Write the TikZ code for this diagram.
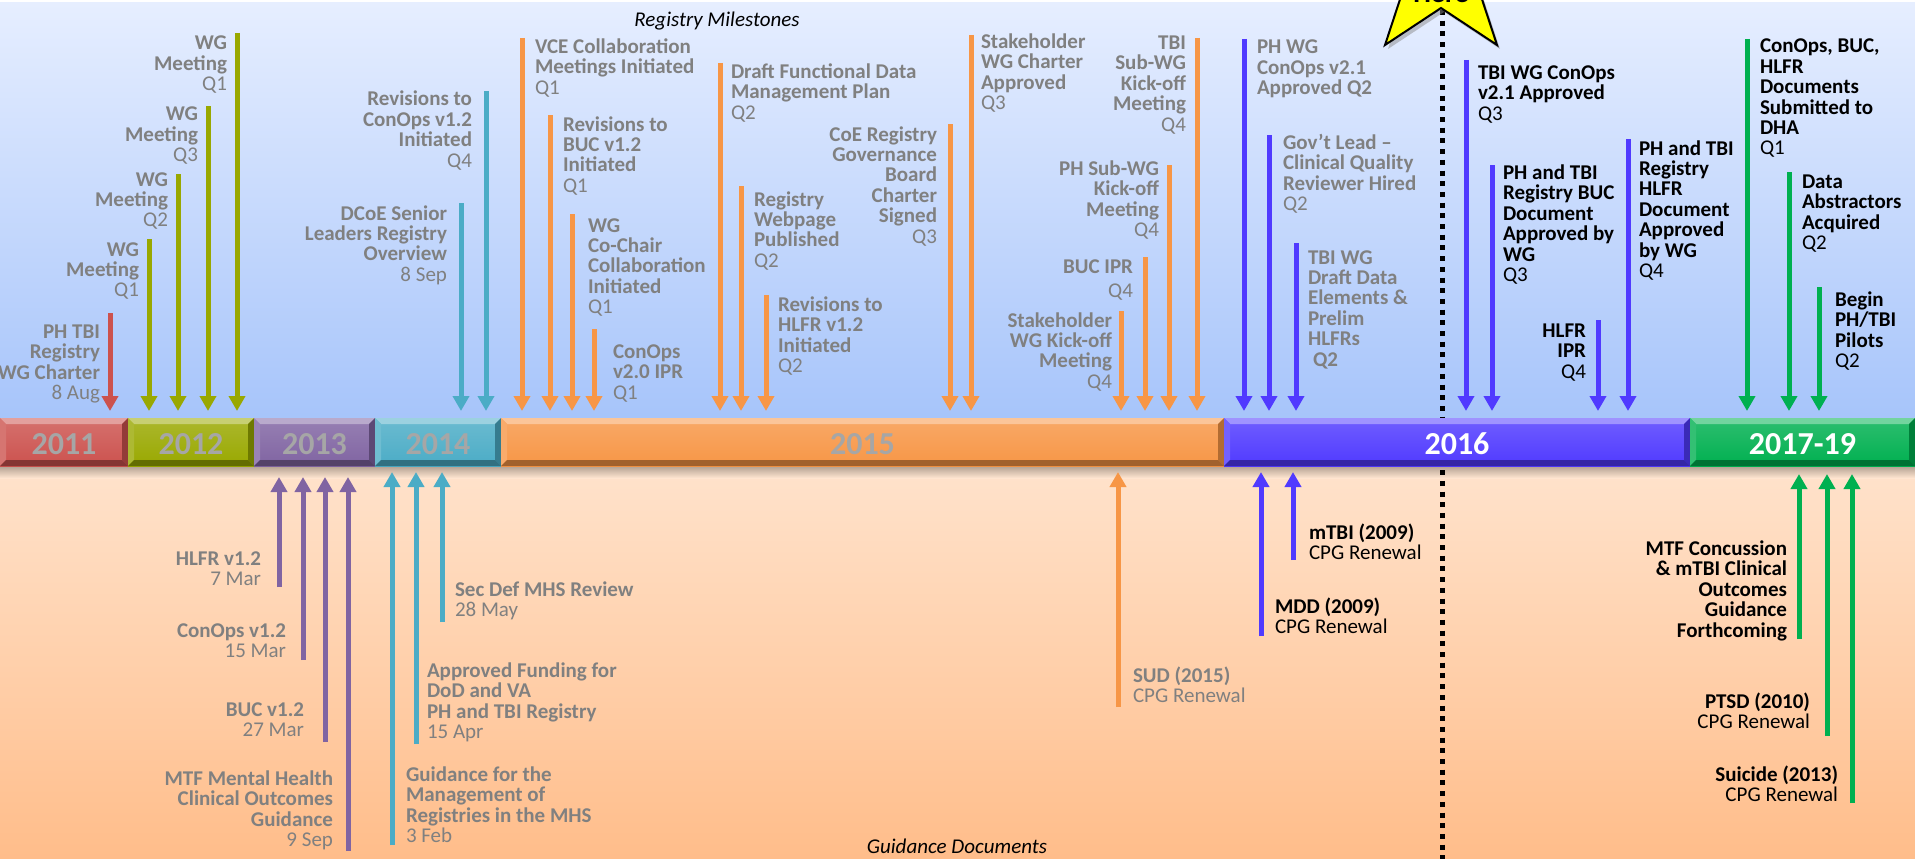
\documentclass[tikz,border=0pt]{standalone}
\usepackage{fontspec}
\setmainfont{Carlito}
\usetikzlibrary{arrows.meta}
\definecolor{cRed}{RGB}{204,82,78}
\definecolor{cOlive}{RGB}{153,168,0}
\definecolor{cPurple}{RGB}{128,100,162}
\definecolor{cTeal}{RGB}{75,172,198}
\definecolor{cOrange}{RGB}{247,150,70}
\definecolor{cBlue}{RGB}{80,58,255}
\definecolor{cGreen}{RGB}{0,176,80}
\definecolor{lblgray}{RGB}{128,128,128}
\definecolor{yrgray}{RGB}{166,166,166}
\definecolor{bgTop}{RGB}{230,238,255}
\definecolor{bgMid}{RGB}{180,205,251}
\definecolor{bgBlue}{RGB}{163,194,250}
\definecolor{bgPeach}{RGB}{255,229,208}
\definecolor{bgOrange}{RGB}{255,189,138}
\definecolor{starY}{RGB}{255,255,0}
\newcommand\RL[1]{\vtop{\halign{\hfil\bfseries##\cr#1\crcr}}}
\newcommand\LL[1]{\vtop{\halign{\bfseries##\hfil\cr#1\crcr}}}
\newcommand\rg{\mdseries}
\newcommand\labR[5]{\node[lab,text=#4,anchor=base east] (#1) at (#2,#3) {\RL{#5}};}
\newcommand\labL[5]{\node[lab,text=#4,anchor=base west] (#1) at (#2,#3) {\LL{#5}};}
\newcommand\tarr[4]{\coordinate (#1s) at (#2,#3); \coordinate (#1e) at (#2,411); \draw[arrowst,#4] (#1s) -- (#1e);}
\newcommand\barr[5]{\coordinate (#1s) at (#2,#3); \coordinate (#1e) at (#2,#4); \draw[arrowst,#5] (#1s) -- (#1e);}
\newcommand\seg[6]{%
 \shade[top color=#4!82!white, bottom color=#4] (#2,418) rectangle (#3,466);
 \fill[#4!55!white] (#2,418) -- (#3,418) -- ({#3-6},424) -- ({#2+6},424) -- cycle;
 \fill[#4!80!white] (#2,418) -- ({#2+6},424) -- ({#2+6},460) -- (#2,466) -- cycle;
 \fill[#4!72!black] (#3,418) -- ({#3-6},424) -- ({#3-6},460) -- (#3,466) -- cycle;
 \fill[#4!65!black] (#2,466) -- ({#2+6},460) -- ({#3-6},460) -- (#3,466) -- cycle;
 \node[yr,text=#6] (#1) at ({(#2+#3)/2},454) {#5};}
\tikzset{
 lab/.style={inner sep=0pt, outer sep=0pt, font=\fontsize{21}{20.4}\selectfont},
 yr/.style={inner sep=0pt, anchor=base, font=\fontsize{32}{36}\selectfont\bfseries},
 arrowst/.style={line width=5pt, -{Triangle[width=16pt,length=15pt]}},
 ttl/.style={inner sep=0pt, anchor=base, font=\fontsize{21}{24}\selectfont\itshape},
}
\begin{document}
\begin{tikzpicture}[x=1pt,y=-1pt]
\useasboundingbox (0,0) rectangle (1915,859);
\clip (0,0) rectangle (1915,859);
% background
\fill[white] (0,0) rectangle (1915,859);
\shade[top color=bgTop, middle color=bgMid, bottom color=bgBlue] (0,3) rectangle (1915,442);
\shade[top color=bgPeach, bottom color=bgOrange] (0,442) rectangle (1915,859);
\shade[top color=bgPeach!70!black, bottom color=bgPeach] (0,466) rectangle (1915,478);
% today line
\coordinate (dtop) at (1442,10);
\coordinate (dbot) at (1442,859);
\draw[line width=5pt, dash pattern=on 5pt off 5.7pt, black] (dtop) -- (dbot);
% bar
\seg{y2011}{0}{128}{cRed}{2011}{yrgray}
\seg{y2012}{128}{254}{cOlive}{2012}{yrgray}
\seg{y2013}{254}{375}{cPurple}{2013}{yrgray}
\seg{y2014}{375}{501}{cTeal}{2014}{yrgray}
\seg{y2015}{501}{1224}{cOrange}{2015}{yrgray}
\seg{y2016}{1224}{1690}{cBlue}{2016}{white}
\seg{y2017}{1690}{1915}{cGreen}{2017-19}{white}
% titles
\node[ttl] (rm) at (717,27) {Registry Milestones};
\node[ttl] (gd) at (957,853) {Guidance Documents};
% top arrows
\tarr{a1}{110}{313}{cRed}
\tarr{a2}{149}{239}{cOlive}
\tarr{a3}{178}{174}{cOlive}
\tarr{a4}{208}{106}{cOlive}
\tarr{a5}{237}{33}{cOlive}
\tarr{a6}{461}{203}{cTeal}
\tarr{a7}{486}{91}{cTeal}
\tarr{a8}{522}{38}{cOrange}
\tarr{a9}{550}{115}{cOrange}
\tarr{a10}{572}{214}{cOrange}
\tarr{a11}{594}{329}{cOrange}
\tarr{a12}{720}{63}{cOrange}
\tarr{a13}{741}{186}{cOrange}
\tarr{a14}{766}{295}{cOrange}
\tarr{a15}{950}{124}{cOrange}
\tarr{a16}{971}{35}{cOrange}
\tarr{a17}{1121}{311}{cOrange}
\tarr{a18}{1145}{257}{cOrange}
\tarr{a19}{1169}{165}{cOrange}
\tarr{a20}{1197}{38}{cOrange}
\tarr{a21}{1244}{39}{cBlue}
\tarr{a22}{1269}{135}{cBlue}
\tarr{a23}{1296}{243}{cBlue}
\tarr{a24}{1466}{60}{cBlue}
\tarr{a25}{1492}{165}{cBlue}
\tarr{a26}{1598}{320}{cBlue}
\tarr{a27}{1628}{139}{cBlue}
\tarr{a28}{1747}{39}{cGreen}
\tarr{a29}{1789}{172}{cGreen}
\tarr{a30}{1819}{287}{cGreen}
% top labels
\labR{n1}{100}{338.5}{lblgray}{PH TBI\cr Registry\cr WG Charter\cr\rg 8 Aug}
\labR{n2}{139}{256}{lblgray}{WG\cr Meeting\cr\rg Q1}
\labR{n3}{168}{186}{lblgray}{WG\cr Meeting\cr\rg Q2}
\labR{n4}{198}{121}{lblgray}{WG\cr Meeting\cr\rg Q3}
\labR{n5}{227}{50}{lblgray}{WG\cr Meeting\cr\rg Q1}
\labR{n6}{447}{220}{lblgray}{DCoE Senior\cr Leaders Registry\cr Overview\cr\rg 8 Sep}
\labR{n7}{472}{106}{lblgray}{Revisions to\cr ConOps v1.2\cr Initiated\cr\rg Q4}
\labL{n8}{535}{53.5}{lblgray}{VCE Collaboration\cr Meetings Initiated\cr\rg Q1}
\labL{n9}{563}{131}{lblgray}{Revisions to\cr BUC v1.2\cr Initiated\cr\rg Q1}
\labL{n10}{588}{232}{lblgray}{WG\cr Co-Chair\cr Collaboration\cr Initiated\cr\rg Q1}
\labL{n11}{613}{358.5}{lblgray}{ConOps\cr v2.0 IPR\cr\rg Q1}
\labL{n12}{731}{78.5}{lblgray}{Draft Functional Data\cr Management Plan\cr\rg Q2}
\labL{n13}{754}{206}{lblgray}{Registry\cr Webpage\cr Published\cr\rg Q2}
\labL{n14}{778}{311.5}{lblgray}{Revisions to\cr HLFR v1.2\cr Initiated\cr\rg Q2}
\labR{n15}{937}{141}{lblgray}{CoE Registry\cr Governance\cr Board\cr Charter\cr Signed\cr\rg Q3}
\labL{n16}{981}{48.5}{lblgray}{Stakeholder\cr WG Charter\cr Approved\cr\rg Q3}
\labR{n17}{1112}{327}{lblgray}{Stakeholder\cr WG Kick-off\cr Meeting\cr\rg Q4}
\labR{n18}{1133}{273}{lblgray}{BUC IPR\cr\noalign{\vskip3.6pt}\rg Q4}
\labR{n19}{1159}{175.5}{lblgray}{PH Sub-WG\cr Kick-off\cr Meeting\cr\rg Q4}
\labR{n20}{1186}{49.5}{lblgray}{TBI\cr Sub-WG\cr Kick-off\cr Meeting\cr\rg Q4}
\labL{n21}{1257}{54}{lblgray}{PH WG\cr ConOps v2.1\cr Approved Q2}
\labL{n22}{1283}{149.5}{lblgray}{Gov’t Lead –\cr Clinical Quality\cr Reviewer Hired\cr\rg Q2}
\labL{n23}{1308}{264}{lblgray}{TBI WG\cr Draft Data\cr Elements \&\cr Prelim\cr HLFRs\cr\kern5pt Q2}
\labL{n24}{1478}{79.5}{black}{TBI WG ConOps\cr v2.1 Approved\cr\rg Q3}
\labL{n25}{1503}{179.5}{black}{PH and TBI\cr Registry BUC\cr Document\cr Approved by\cr WG\cr\rg Q3}
\labR{n26}{1586}{337.5}{black}{HLFR\cr IPR\cr\rg Q4}
\labL{n27}{1639}{155}{black}{PH and TBI\cr Registry\cr HLFR\cr Document\cr Approved\cr by WG\cr\rg Q4}
\labL{n28}{1760}{53}{black}{ConOps, BUC,\cr HLFR\cr Documents\cr Submitted to\cr DHA\cr\rg Q1}
\labL{n29}{1802}{188.5}{black}{Data\cr Abstractors\cr Acquired\cr\rg Q2}
\labL{n30}{1835}{306.5}{black}{Begin\cr PH/TBI\cr Pilots\cr\rg Q2}
% bottom arrows
\barr{b1}{279}{587}{477}{cPurple}
\barr{b2}{303}{660}{477}{cPurple}
\barr{b3}{325}{742}{477}{cPurple}
\barr{b4}{348}{851}{477}{cPurple}
\barr{b5}{392}{845}{472}{cTeal}
\barr{b6}{416}{744}{472}{cTeal}
\barr{b7}{442}{622}{472}{cTeal}
\barr{b8}{1118}{707}{472}{cOrange}
\barr{b9}{1261}{636}{472}{cBlue}
\barr{b10}{1293}{560}{472}{cBlue}
\barr{b11}{1799}{639}{474}{cGreen}
\barr{b12}{1827}{736}{474}{cGreen}
\barr{b13}{1852}{803}{474}{cGreen}
% bottom labels
\labR{m1}{261}{565.5}{lblgray}{HLFR v1.2\cr\rg 7 Mar}
\labR{m2}{286}{637.5}{lblgray}{ConOps v1.2\cr\rg 15 Mar}
\labR{m3}{304}{716.5}{lblgray}{BUC v1.2\cr\rg 27 Mar}
\labR{m4}{333}{785.5}{lblgray}{MTF Mental Health\cr Clinical Outcomes\cr Guidance\cr\rg 9 Sep}
\labL{m5}{406}{781.5}{lblgray}{Guidance for the\cr Management of\cr Registries in the MHS\cr\rg 3 Feb}
\labL{m6}{427}{677.5}{lblgray}{Approved Funding for\cr DoD and VA\cr PH and TBI Registry\cr\rg 15 Apr}
\labL{m7}{455}{596.5}{lblgray}{Sec Def MHS Review\cr\rg 28 May}
\labL{m8}{1133}{682.5}{lblgray}{SUD (2015)\cr\rg CPG Renewal}
\labL{m9}{1275}{613.5}{black}{MDD (2009)\cr\rg CPG Renewal}
\labL{m10}{1309}{539.5}{black}{mTBI (2009)\cr\rg CPG Renewal}
\labR{m11}{1787}{555.5}{black}{MTF Concussion\cr \& mTBI Clinical\cr Outcomes\cr Guidance\cr Forthcoming}
\labR{m12}{1810}{708.5}{black}{PTSD (2010)\cr\rg CPG Renewal}
\labR{m13}{1838}{781.5}{black}{Suicide (2013)\cr\rg CPG Renewal}
% star
\fill[black!45,opacity=0.5,xshift=3pt,yshift=-4pt] (1441,-129) -- (1465,-66) -- (1532,-63) -- (1474,-25) -- (1497,45) -- (1441,8) -- (1385,45) -- (1408,-25) -- (1350,-63) -- (1417,-66) -- cycle;
\draw[fill=starY, draw=black, line width=2pt, line join=miter] (1441,-129) -- (1465,-66) -- (1532,-63) -- (1474,-25) -- (1497,45) -- (1441,8) -- (1385,45) -- (1408,-25) -- (1350,-63) -- (1417,-66) -- cycle;
\node[inner sep=0pt, anchor=base, font=\fontsize{28}{30}\selectfont\bfseries] (here) at (1441,3) {Here};
\end{tikzpicture}
\end{document}
